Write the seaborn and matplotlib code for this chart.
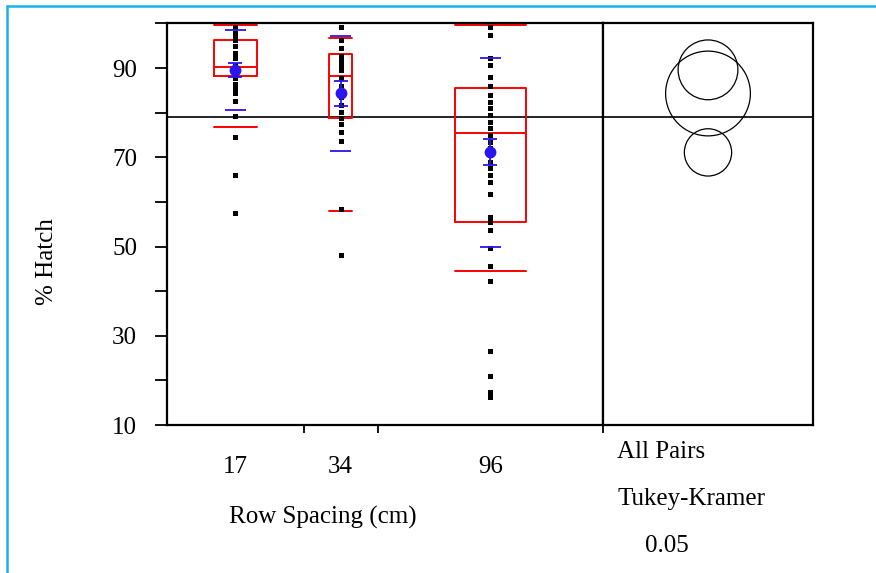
"""
% Hatch by row spacing - JMP style oneway plot with comparison circles
"""
import numpy as np
import pandas as pd
import matplotlib.pyplot as plt
import seaborn as sns
from matplotlib.patches import Circle
from matplotlib.lines import Line2D

# ---- data ----
groups = ['17', '34', '96']
group_n = [37, 20, 61]

hatch_17 = [99.1, 97.8, 97.0, 96.4, 94.9, 93.4, 92.2, 90.7, 89.9, 88.8, 87.7,
            86.4, 85.5, 84.3, 82.7, 79.3, 74.6, 66.0, 57.6]
hatch_34 = [99.1, 96.3, 94.4, 92.6, 91.8, 90.7, 89.6, 87.7, 85.9, 83.6, 81.7,
            80.2, 78.7, 77.4, 75.7, 73.6, 58.4, 48.1]
hatch_96 = [99.3, 97.4, 92.3, 90.7, 87.9, 85.9, 84.0, 82.5, 81.0, 79.5, 78.0,
            76.5, 75.0, 73.5, 72.0, 70.5, 69.0, 67.5, 66.0, 64.5, 61.8, 56.7,
            55.6, 53.7, 49.6, 45.7, 42.3, 26.6, 21.0, 17.5, 16.3]

q10 = [76.8, 58.0, 44.6]
q25 = [88.2, 78.7, 55.6]
q50 = [90.2, 88.2, 75.4]
q75 = [96.4, 93.1, 85.5]
q90 = [99.6, 96.8, 99.6]

means = [89.6, 84.3, 71.1]
sds = [9.0, 12.8, 21.2]
ses = [1.5, 2.8, 2.9]
circle_r = [6.7, 9.5, 5.3]

y_ticks = [10, 20, 30, 40, 50, 60, 70, 80, 90, 100]

# ---- figure ----
sns.set_style('white')
plt.rcParams['font.family'] = ['Liberation Serif', 'DejaVu Serif']
plt.rcParams['font.size'] = 18
for key in ('text.color', 'axes.labelcolor', 'xtick.color', 'ytick.color'):
    plt.rcParams[key] = 'black'

W, H = 876, 573
fig = plt.figure(figsize=(W / 100, H / 100), dpi=100)
ax = fig.add_axes([167 / W, 1 - 425 / H, 436 / W, 402 / H])
ax2 = fig.add_axes([603 / W, 1 - 425 / H, 210 / W, 402 / H], sharey=ax)

edges = np.concatenate([[0], np.cumsum(group_n)])
centers = (edges[:-1] + edges[1:]) / 2
box_w = 0.315 * np.array(group_n)
px_per_unit = 436 / edges[-1]

# individual observations
df = pd.DataFrame({
    'x': np.repeat(centers, [len(hatch_17), len(hatch_34), len(hatch_96)]),
    'hatch': hatch_17 + hatch_34 + hatch_96,
})
sns.stripplot(data=df, x='x', y='hatch', native_scale=True, orient='x',
              jitter=False, marker='s', size=3.6, color='black',
              linewidth=0, ax=ax, zorder=3)

# quantile boxes (10/25/50/75/90)
stats = [dict(whislo=a, q1=b, med=c, q3=d, whishi=e, fliers=[])
         for a, b, c, d, e in zip(q10, q25, q50, q75, q90)]
ax.bxp(stats, positions=centers, widths=box_w, capwidths=box_w,
       showfliers=False, manage_ticks=False,
       boxprops=dict(color='red', linewidth=1.4),
       medianprops=dict(color='red', linewidth=1.4),
       capprops=dict(color='red', linewidth=1.4),
       whiskerprops=dict(linestyle='none'), zorder=2)

# mean +/- sd lines and mean with error bars
blue = '#2a14f0'
sd_half = 10.5 / px_per_unit
for c, m, s in zip(centers, means, sds):
    ax.hlines([m - s, m + s], c - sd_half, c + sd_half, color=blue,
              linewidth=1.3, zorder=4)
ax.errorbar(centers, means, yerr=ses, fmt='o', color=blue, markersize=7.5,
            capsize=4.7, elinewidth=1.3, capthick=1.3, zorder=5)

grand_mean = np.dot(means, group_n) / np.sum(group_n)
ax.axhline(grand_mean, color='black', linewidth=1.2, zorder=1)
ax2.axhline(grand_mean, color='black', linewidth=1.2, zorder=1)

# axes styling
ax.set_ylim(10, 100.1)
ax.set_xlim(edges[0], edges[-1])
ax.set_yticks(y_ticks)
ax.set_yticklabels([str(v) if v % 20 == 10 else '' for v in y_ticks])
ax.tick_params(axis='y', length=8.6, width=1.3, pad=13, left=True)
ax.set_xticks(edges[1:])
ax.set_xticklabels([])
ax.set_xticks(centers, minor=True)
ax.set_xticklabels(groups, minor=True)
ax.tick_params(axis='x', which='major', length=6, width=1.3, bottom=True)
ax.tick_params(axis='x', which='minor', length=0, pad=22)
ax.set_xlabel('')
ax.set_ylabel('')
for a in (ax, ax2):
    for sp in a.spines.values():
        sp.set_visible(True)
        sp.set_color('black')
        sp.set_linewidth(1.6)

# comparison circles
xspan = (ax.get_ylim()[1] - ax.get_ylim()[0]) * 210 / 402
ax2.set_xlim(0, xspan)
for m, r in zip(means, circle_r):
    ax2.add_patch(Circle((xspan / 2, m), r, fill=False, edgecolor='black',
                         linewidth=0.9))
ax2.tick_params(left=False, bottom=False, labelleft=False, labelbottom=False)

# labels
fig.text(47 / W, 1 - 262 / H, '% Hatch', rotation=90, ha='center', va='center')
fig.text(323 / W, 1 - 517 / H, 'Row Spacing (cm)', ha='center', va='center')
fig.text(617 / W, 1 - 452 / H, 'All Pairs', ha='left', va='center')
fig.text(617 / W, 1 - 499 / H, 'Tukey-Kramer', ha='left', va='center')
fig.text(645 / W, 1 - 546 / H, '0.05', ha='left', va='center')

# cyan frame
frame = '#16b2ea'
fig.add_artist(Line2D([7 / W, 7 / W], [0, 1 - 6 / H], color=frame,
                      linewidth=1.8, transform=fig.transFigure))
fig.add_artist(Line2D([7 / W, 1], [1 - 6 / H, 1 - 6 / H], color=frame,
                      linewidth=1.8, transform=fig.transFigure))

fig.savefig('out.png', dpi=100, facecolor='white')
